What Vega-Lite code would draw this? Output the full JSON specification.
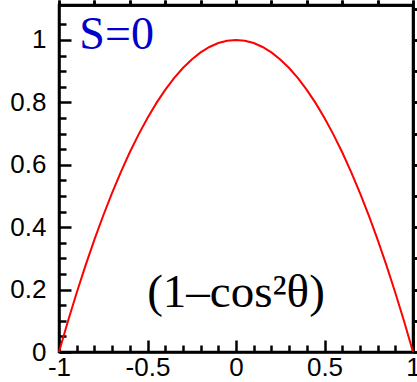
{
  "$schema": "https://vega.github.io/schema/vega-lite/v6.json",
  "width": 354,
  "height": 347,
  "autosize": "none",
  "padding": {"left": 59, "top": 5, "right": 4, "bottom": 30},
  "background": "white",
  "config": {
    "view": {"stroke": "black", "strokeWidth": 2.5},
    "axis": {"grid": false, "labelFont": "Liberation Sans", "labelFontSize": 26, "labelColor": "black", "domainColor": "black", "domainWidth": 2.5, "tickColor": "black", "tickWidth": 2.5, "title": null}
  },
  "data": {"values": [
    {"x": -1, "y": 0}, {"x": -0.95, "y": 0.0975}, {"x": -0.9, "y": 0.19}, {"x": -0.85, "y": 0.2775},
    {"x": -0.8, "y": 0.36}, {"x": -0.75, "y": 0.4375}, {"x": -0.7, "y": 0.51}, {"x": -0.65, "y": 0.5775},
    {"x": -0.6, "y": 0.64}, {"x": -0.55, "y": 0.6975}, {"x": -0.5, "y": 0.75}, {"x": -0.45, "y": 0.7975},
    {"x": -0.4, "y": 0.84}, {"x": -0.35, "y": 0.8775}, {"x": -0.3, "y": 0.91}, {"x": -0.25, "y": 0.9375},
    {"x": -0.2, "y": 0.96}, {"x": -0.15, "y": 0.9775}, {"x": -0.1, "y": 0.99}, {"x": -0.05, "y": 0.9975},
    {"x": 0, "y": 1},
    {"x": 0.05, "y": 0.9975}, {"x": 0.1, "y": 0.99}, {"x": 0.15, "y": 0.9775}, {"x": 0.2, "y": 0.96},
    {"x": 0.25, "y": 0.9375}, {"x": 0.3, "y": 0.91}, {"x": 0.35, "y": 0.8775}, {"x": 0.4, "y": 0.84},
    {"x": 0.45, "y": 0.7975}, {"x": 0.5, "y": 0.75}, {"x": 0.55, "y": 0.6975}, {"x": 0.6, "y": 0.64},
    {"x": 0.65, "y": 0.5775}, {"x": 0.7, "y": 0.51}, {"x": 0.75, "y": 0.4375}, {"x": 0.8, "y": 0.36},
    {"x": 0.85, "y": 0.2775}, {"x": 0.9, "y": 0.19}, {"x": 0.95, "y": 0.0975}, {"x": 1, "y": 0}
  ]},
  "resolve": {"axis": {"x": "independent", "y": "independent"}},
  "layer": [
    {
      "mark": {"type": "line", "color": "#ff0000", "strokeWidth": 2},
      "encoding": {
        "x": {"field": "x", "type": "quantitative", "scale": {"domain": [-1, 1], "nice": false, "zero": false},
              "axis": {"orient": "bottom", "values": [-1, -0.5, 0, 0.5, 1], "tickSize": -12, "labelPadding": 14, "labelFlush": false, "labelExpr": "'' + datum.value"}},
        "y": {"field": "y", "type": "quantitative", "scale": {"domain": [0, 1.112], "nice": false},
              "axis": {"orient": "left", "values": [0, 0.2, 0.4, 0.6, 0.8, 1], "tickSize": -12, "labelPadding": 25, "labelFlush": false, "labelExpr": "'' + datum.value"}}
      }
    },
    {
      "mark": {"type": "point", "opacity": 0},
      "encoding": {
        "x": {"field": "x", "type": "quantitative",
              "axis": {"orient": "bottom", "values": [-0.9, -0.8, -0.7, -0.6, -0.4, -0.3, -0.2, -0.1, 0.1, 0.2, 0.3, 0.4, 0.6, 0.7, 0.8, 0.9], "tickSize": -7, "labels": false, "domain": false}},
        "y": {"field": "y", "type": "quantitative",
              "axis": {"orient": "left", "values": [0.05, 0.1, 0.15, 0.25, 0.3, 0.35, 0.45, 0.5, 0.55, 0.65, 0.7, 0.75, 0.85, 0.9, 0.95, 1.05], "tickSize": -7, "labels": false, "domain": false}}
      }
    },
    {
      "data": {"values": [{"label": "S=0"}]},
      "mark": {"type": "text", "font": "Liberation Serif", "fontSize": 46, "color": "#0000cc", "align": "left", "baseline": "alphabetic"},
      "encoding": {"text": {"field": "label"}, "x": {"datum": -0.885, "type": "quantitative"}, "y": {"datum": 0.97, "type": "quantitative"}}
    },
    {
      "data": {"values": [{"label": "(1–cos²θ)"}]},
      "mark": {"type": "text", "font": "Liberation Serif", "fontSize": 47, "color": "black", "align": "center", "baseline": "alphabetic"},
      "encoding": {"text": {"field": "label"}, "x": {"datum": 0, "type": "quantitative"}, "y": {"datum": 0.144, "type": "quantitative"}}
    }
  ]
}
